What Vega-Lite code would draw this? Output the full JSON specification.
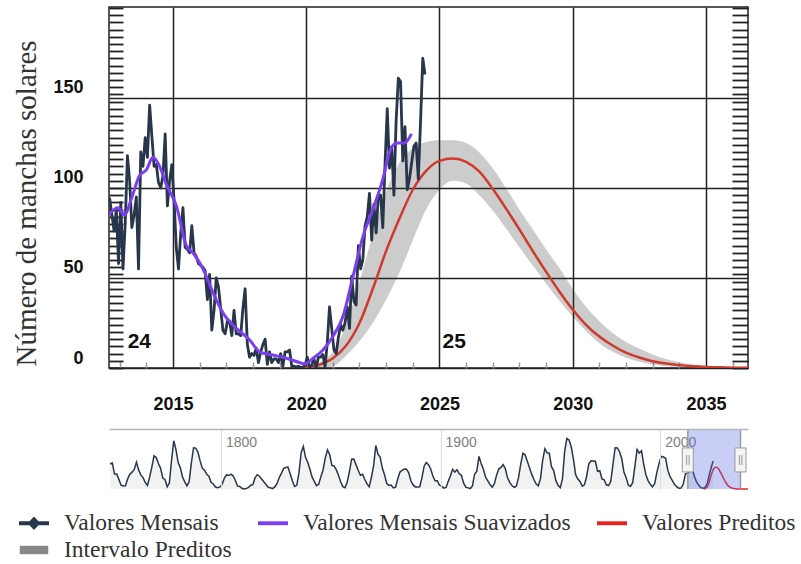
{
  "$schema": "https://vega.github.io/schema/vega-lite/v6.json",
  "padding": {"left": 12, "top": 6, "right": 0, "bottom": 0},
  "background": "white",
  "config": {"view": {"stroke": null}},
  "datasets": {
    "monthly": [
      {"t": 2012.542, "v": 95}, {"t": 2012.625, "v": 94}, {"t": 2012.708, "v": 85}, {"t": 2012.792, "v": 76}, {"t": 2012.875, "v": 88}, {"t": 2012.958, "v": 58},
      {"t": 2013.042, "v": 92}, {"t": 2013.125, "v": 55}, {"t": 2013.208, "v": 80}, {"t": 2013.292, "v": 118}, {"t": 2013.375, "v": 104}, {"t": 2013.458, "v": 78}, {"t": 2013.542, "v": 85}, {"t": 2013.625, "v": 95}, {"t": 2013.708, "v": 55}, {"t": 2013.792, "v": 120}, {"t": 2013.875, "v": 112}, {"t": 2013.958, "v": 128},
      {"t": 2014.042, "v": 117}, {"t": 2014.125, "v": 146}, {"t": 2014.208, "v": 129}, {"t": 2014.292, "v": 112}, {"t": 2014.375, "v": 113}, {"t": 2014.458, "v": 103}, {"t": 2014.542, "v": 100}, {"t": 2014.625, "v": 107}, {"t": 2014.708, "v": 130}, {"t": 2014.792, "v": 90}, {"t": 2014.875, "v": 104}, {"t": 2014.958, "v": 113},
      {"t": 2015.042, "v": 93}, {"t": 2015.125, "v": 67}, {"t": 2015.208, "v": 55}, {"t": 2015.292, "v": 75}, {"t": 2015.375, "v": 89}, {"t": 2015.458, "v": 67}, {"t": 2015.542, "v": 66}, {"t": 2015.625, "v": 64}, {"t": 2015.708, "v": 79}, {"t": 2015.792, "v": 64}, {"t": 2015.875, "v": 62}, {"t": 2015.958, "v": 58},
      {"t": 2016.042, "v": 57}, {"t": 2016.125, "v": 56}, {"t": 2016.208, "v": 54}, {"t": 2016.292, "v": 38}, {"t": 2016.375, "v": 52}, {"t": 2016.458, "v": 21}, {"t": 2016.542, "v": 32}, {"t": 2016.625, "v": 50}, {"t": 2016.708, "v": 45}, {"t": 2016.792, "v": 33}, {"t": 2016.875, "v": 21}, {"t": 2016.958, "v": 19},
      {"t": 2017.042, "v": 26}, {"t": 2017.125, "v": 26}, {"t": 2017.208, "v": 18}, {"t": 2017.292, "v": 32}, {"t": 2017.375, "v": 19}, {"t": 2017.458, "v": 19}, {"t": 2017.542, "v": 18}, {"t": 2017.625, "v": 33}, {"t": 2017.708, "v": 44}, {"t": 2017.792, "v": 13}, {"t": 2017.875, "v": 6}, {"t": 2017.958, "v": 8},
      {"t": 2018.042, "v": 7}, {"t": 2018.125, "v": 11}, {"t": 2018.208, "v": 3}, {"t": 2018.292, "v": 9}, {"t": 2018.375, "v": 13}, {"t": 2018.458, "v": 16}, {"t": 2018.542, "v": 2}, {"t": 2018.625, "v": 9}, {"t": 2018.708, "v": 3}, {"t": 2018.792, "v": 5}, {"t": 2018.875, "v": 5}, {"t": 2018.958, "v": 3},
      {"t": 2019.042, "v": 8}, {"t": 2019.125, "v": 1}, {"t": 2019.208, "v": 9}, {"t": 2019.292, "v": 9}, {"t": 2019.375, "v": 10}, {"t": 2019.458, "v": 1}, {"t": 2019.542, "v": 1}, {"t": 2019.625, "v": 0.5}, {"t": 2019.708, "v": 1}, {"t": 2019.792, "v": 0.4}, {"t": 2019.875, "v": 0.5}, {"t": 2019.958, "v": 1.5},
      {"t": 2020.042, "v": 6}, {"t": 2020.125, "v": 0.2}, {"t": 2020.208, "v": 1.5}, {"t": 2020.292, "v": 5}, {"t": 2020.375, "v": 0.2}, {"t": 2020.458, "v": 6}, {"t": 2020.542, "v": 6}, {"t": 2020.625, "v": 7.5}, {"t": 2020.708, "v": 0.6}, {"t": 2020.792, "v": 14}, {"t": 2020.875, "v": 34}, {"t": 2020.958, "v": 22},
      {"t": 2021.042, "v": 10}, {"t": 2021.125, "v": 8}, {"t": 2021.208, "v": 17}, {"t": 2021.292, "v": 24}, {"t": 2021.375, "v": 21}, {"t": 2021.458, "v": 25}, {"t": 2021.542, "v": 34}, {"t": 2021.625, "v": 22}, {"t": 2021.708, "v": 51}, {"t": 2021.792, "v": 37}, {"t": 2021.875, "v": 35}, {"t": 2021.958, "v": 68},
      {"t": 2022.042, "v": 55}, {"t": 2022.125, "v": 60}, {"t": 2022.208, "v": 79}, {"t": 2022.292, "v": 84}, {"t": 2022.375, "v": 97}, {"t": 2022.458, "v": 71}, {"t": 2022.542, "v": 91}, {"t": 2022.625, "v": 75}, {"t": 2022.708, "v": 96}, {"t": 2022.792, "v": 96}, {"t": 2022.875, "v": 78}, {"t": 2022.958, "v": 113},
      {"t": 2023.042, "v": 144}, {"t": 2023.125, "v": 111}, {"t": 2023.208, "v": 123}, {"t": 2023.292, "v": 96}, {"t": 2023.375, "v": 137}, {"t": 2023.458, "v": 161}, {"t": 2023.542, "v": 159}, {"t": 2023.625, "v": 115}, {"t": 2023.708, "v": 134}, {"t": 2023.792, "v": 99}, {"t": 2023.875, "v": 105}, {"t": 2023.958, "v": 114},
      {"t": 2024.042, "v": 123}, {"t": 2024.125, "v": 125}, {"t": 2024.208, "v": 105}, {"t": 2024.292, "v": 137}, {"t": 2024.375, "v": 172}, {"t": 2024.458, "v": 163}
    ],
    "smooth": [
      {"t": 2012.58, "v": 85}, {"t": 2012.94, "v": 89}, {"t": 2013.19, "v": 85}, {"t": 2013.44, "v": 94}, {"t": 2013.75, "v": 107}, {"t": 2014.0, "v": 110}, {"t": 2014.25, "v": 117}, {"t": 2014.5, "v": 112}, {"t": 2014.75, "v": 102}, {"t": 2015.13, "v": 90}, {"t": 2015.5, "v": 68}, {"t": 2015.75, "v": 64}, {"t": 2016.13, "v": 55}, {"t": 2016.5, "v": 42}, {"t": 2016.88, "v": 30.5}, {"t": 2017.38, "v": 22}, {"t": 2017.88, "v": 15.6}, {"t": 2018.25, "v": 9}, {"t": 2018.75, "v": 7.2}, {"t": 2019.26, "v": 5.4}, {"t": 2019.76, "v": 3}, {"t": 2019.94, "v": 2.2}, {"t": 2020.26, "v": 5.4}, {"t": 2020.63, "v": 10}, {"t": 2021.0, "v": 17.5}, {"t": 2021.38, "v": 28.6}, {"t": 2021.76, "v": 51}, {"t": 2022.13, "v": 73}, {"t": 2022.5, "v": 88}, {"t": 2022.88, "v": 105}, {"t": 2023.13, "v": 120}, {"t": 2023.39, "v": 125}, {"t": 2023.7, "v": 125}, {"t": 2023.95, "v": 130}
    ],
    "pred": [
      {"t": 2019.8, "v": 0, "lo": 0, "hi": 0},
      {"t": 2020.0, "v": 0.2, "lo": 0, "hi": 0.6},
      {"t": 2020.5, "v": 1.8, "lo": 0.1, "hi": 3},
      {"t": 2021.0, "v": 5.4, "lo": 1, "hi": 9},
      {"t": 2021.5, "v": 12.5, "lo": 7, "hi": 24},
      {"t": 2022.0, "v": 25, "lo": 15, "hi": 48},
      {"t": 2022.5, "v": 44, "lo": 25, "hi": 74},
      {"t": 2023.0, "v": 65, "lo": 38, "hi": 98},
      {"t": 2023.5, "v": 83, "lo": 53, "hi": 114},
      {"t": 2024.0, "v": 99, "lo": 71, "hi": 122},
      {"t": 2024.5, "v": 109.5, "lo": 88, "hi": 125.5},
      {"t": 2025.0, "v": 115, "lo": 99, "hi": 126.5},
      {"t": 2025.5, "v": 116.3, "lo": 104, "hi": 126.5},
      {"t": 2026.0, "v": 114.5, "lo": 102.5, "hi": 125},
      {"t": 2026.5, "v": 109, "lo": 96, "hi": 119.7},
      {"t": 2027.0, "v": 99.5, "lo": 87.5, "hi": 111},
      {"t": 2027.5, "v": 88.5, "lo": 77.5, "hi": 100},
      {"t": 2028.0, "v": 77, "lo": 67, "hi": 88},
      {"t": 2028.5, "v": 65, "lo": 57, "hi": 77},
      {"t": 2029.0, "v": 53.5, "lo": 47, "hi": 66},
      {"t": 2029.5, "v": 42.5, "lo": 37.5, "hi": 55.5},
      {"t": 2030.0, "v": 32.5, "lo": 28.6, "hi": 44},
      {"t": 2030.5, "v": 24, "lo": 20.5, "hi": 34},
      {"t": 2031.0, "v": 17.5, "lo": 13.8, "hi": 26},
      {"t": 2031.5, "v": 12.5, "lo": 9, "hi": 19.5},
      {"t": 2032.0, "v": 8.5, "lo": 5.7, "hi": 14.5},
      {"t": 2032.5, "v": 5.8, "lo": 3.5, "hi": 10.8},
      {"t": 2033.0, "v": 3.8, "lo": 2, "hi": 7.5},
      {"t": 2033.5, "v": 2.5, "lo": 1, "hi": 5},
      {"t": 2034.0, "v": 1.6, "lo": 0.4, "hi": 3.2},
      {"t": 2034.5, "v": 1.0, "lo": 0.1, "hi": 2},
      {"t": 2035.0, "v": 0.6, "lo": 0, "hi": 1.1},
      {"t": 2035.5, "v": 0.35, "lo": 0, "hi": 0.6},
      {"t": 2036.0, "v": 0.2, "lo": 0, "hi": 0.3},
      {"t": 2037.0, "v": 0.05, "lo": 0, "hi": 0},
      {"t": 2040.0, "v": 0, "lo": 0, "hi": 0}
    ],
    "cycles": [{"t": 2013.3, "v": 14.4, "label": "24"}, {"t": 2025.12, "v": 14.4, "label": "25"}],
    "navlabels": [{"t": 1800, "label": "1800"}, {"t": 1900, "label": "1900"}, {"t": 2000, "label": "2000"}],
    "sel": [{"a": 2012.6, "b": 2036.58}],
    "selEdges": [{"t": 2012.6}, {"t": 2036.58}],
    "nav": [
      {"t":1749.5,"v":134.7},{"t":1750.5,"v":139.0},{"t":1751.5,"v":79.5},{"t":1752.5,"v":79.7},{"t":1753.5,"v":51.2},{"t":1754.5,"v":20.3},{"t":1755.5,"v":16.0},{"t":1756.5,"v":17.0},{"t":1757.5,"v":54.0},{"t":1758.5,"v":79.3},{"t":1759.5,"v":90.0},
      {"t":1760.5,"v":104.8},{"t":1761.5,"v":143.2},{"t":1762.5,"v":102.0},{"t":1763.5,"v":75.2},{"t":1764.5,"v":60.7},{"t":1765.5,"v":34.8},{"t":1766.5,"v":19.0},{"t":1767.5,"v":63.0},{"t":1768.5,"v":116.3},{"t":1769.5,"v":176.8},
      {"t":1770.5,"v":168.0},{"t":1771.5,"v":136.0},{"t":1772.5,"v":110.8},{"t":1773.5,"v":58.0},{"t":1774.5,"v":51.0},{"t":1775.5,"v":11.7},{"t":1776.5,"v":33.0},{"t":1777.5,"v":154.2},{"t":1778.5,"v":257.3},{"t":1779.5,"v":209.8},
      {"t":1780.5,"v":141.3},{"t":1781.5,"v":113.5},{"t":1782.5,"v":64.2},{"t":1783.5,"v":38.0},{"t":1784.5,"v":17.0},{"t":1785.5,"v":40.2},{"t":1786.5,"v":138.2},{"t":1787.5,"v":220.0},{"t":1788.5,"v":218.2},{"t":1789.5,"v":196.8},
      {"t":1790.5,"v":149.8},{"t":1791.5,"v":111.0},{"t":1792.5,"v":100.0},{"t":1793.5,"v":78.2},{"t":1794.5,"v":68.3},{"t":1795.5,"v":35.5},{"t":1796.5,"v":26.7},{"t":1797.5,"v":10.7},{"t":1798.5,"v":6.8},{"t":1799.5,"v":11.3},
      {"t":1800.5,"v":24.2},{"t":1801.5,"v":56.7},{"t":1802.5,"v":75.0},{"t":1803.5,"v":71.8},{"t":1804.5,"v":79.2},{"t":1805.5,"v":70.3},{"t":1806.5,"v":46.8},{"t":1807.5,"v":16.8},{"t":1808.5,"v":13.5},{"t":1809.5,"v":4.2},
      {"t":1810.5,"v":0.0},{"t":1811.5,"v":2.3},{"t":1812.5,"v":8.3},{"t":1813.5,"v":20.3},{"t":1814.5,"v":23.2},{"t":1815.5,"v":59.0},{"t":1816.5,"v":76.3},{"t":1817.5,"v":68.3},{"t":1818.5,"v":52.9},{"t":1819.5,"v":38.5},
      {"t":1820.5,"v":24.2},{"t":1821.5,"v":9.2},{"t":1822.5,"v":6.3},{"t":1823.5,"v":2.2},{"t":1824.5,"v":11.4},{"t":1825.5,"v":28.2},{"t":1826.5,"v":59.9},{"t":1827.5,"v":83.0},{"t":1828.5,"v":108.5},{"t":1829.5,"v":115.2},
      {"t":1830.5,"v":117.4},{"t":1831.5,"v":80.8},{"t":1832.5,"v":44.3},{"t":1833.5,"v":13.4},{"t":1834.5,"v":19.5},{"t":1835.5,"v":85.8},{"t":1836.5,"v":192.7},{"t":1837.5,"v":227.3},{"t":1838.5,"v":168.7},{"t":1839.5,"v":143.0},
      {"t":1840.5,"v":105.5},{"t":1841.5,"v":63.3},{"t":1842.5,"v":40.3},{"t":1843.5,"v":18.1},{"t":1844.5,"v":25.1},{"t":1845.5,"v":65.8},{"t":1846.5,"v":102.7},{"t":1847.5,"v":166.3},{"t":1848.5,"v":208.3},{"t":1849.5,"v":182.5},
      {"t":1850.5,"v":126.3},{"t":1851.5,"v":122.0},{"t":1852.5,"v":103.0},{"t":1853.5,"v":73.0},{"t":1854.5,"v":39.0},{"t":1855.5,"v":12.6},{"t":1856.5,"v":7.0},{"t":1857.5,"v":37.6},{"t":1858.5,"v":93.8},{"t":1859.5,"v":159.3},
      {"t":1860.5,"v":159.7},{"t":1861.5,"v":128.7},{"t":1862.5,"v":98.5},{"t":1863.5,"v":73.3},{"t":1864.5,"v":78.3},{"t":1865.5,"v":50.8},{"t":1866.5,"v":27.2},{"t":1867.5,"v":12.2},{"t":1868.5,"v":62.7},{"t":1869.5,"v":123.8},
      {"t":1870.5,"v":232.0},{"t":1871.5,"v":185.3},{"t":1872.5,"v":169.2},{"t":1873.5,"v":110.3},{"t":1874.5,"v":74.5},{"t":1875.5,"v":28.3},{"t":1876.5,"v":18.9},{"t":1877.5,"v":20.7},{"t":1878.5,"v":5.7},{"t":1879.5,"v":10.0},
      {"t":1880.5,"v":53.7},{"t":1881.5,"v":90.5},{"t":1882.5,"v":99.0},{"t":1883.5,"v":106.1},{"t":1884.5,"v":105.8},{"t":1885.5,"v":86.3},{"t":1886.5,"v":42.4},{"t":1887.5,"v":21.8},{"t":1888.5,"v":11.2},{"t":1889.5,"v":10.4},
      {"t":1890.5,"v":11.8},{"t":1891.5,"v":59.5},{"t":1892.5,"v":121.7},{"t":1893.5,"v":142.0},{"t":1894.5,"v":130.0},{"t":1895.5,"v":106.6},{"t":1896.5,"v":69.4},{"t":1897.5,"v":43.8},{"t":1898.5,"v":44.4},{"t":1899.5,"v":20.2},
      {"t":1900.5,"v":15.7},{"t":1901.5,"v":4.6},{"t":1902.5,"v":8.5},{"t":1903.5,"v":40.8},{"t":1904.5,"v":70.1},{"t":1905.5,"v":105.5},{"t":1906.5,"v":90.1},{"t":1907.5,"v":102.8},{"t":1908.5,"v":80.9},{"t":1909.5,"v":73.2},
      {"t":1910.5,"v":30.9},{"t":1911.5,"v":9.5},{"t":1912.5,"v":6.0},{"t":1913.5,"v":2.4},{"t":1914.5,"v":16.1},{"t":1915.5,"v":79.0},{"t":1916.5,"v":95.0},{"t":1917.5,"v":173.6},{"t":1918.5,"v":134.6},{"t":1919.5,"v":105.7},
      {"t":1920.5,"v":62.7},{"t":1921.5,"v":43.5},{"t":1922.5,"v":23.7},{"t":1923.5,"v":9.7},{"t":1924.5,"v":27.9},{"t":1925.5,"v":73.8},{"t":1926.5,"v":106.3},{"t":1927.5,"v":114.9},{"t":1928.5,"v":129.7},{"t":1929.5,"v":108.2},
      {"t":1930.5,"v":59.4},{"t":1931.5,"v":35.1},{"t":1932.5,"v":18.6},{"t":1933.5,"v":9.2},{"t":1934.5,"v":14.6},{"t":1935.5,"v":60.2},{"t":1936.5,"v":132.8},{"t":1937.5,"v":190.6},{"t":1938.5,"v":182.6},{"t":1939.5,"v":148.0},
      {"t":1940.5,"v":113.0},{"t":1941.5,"v":79.2},{"t":1942.5,"v":50.8},{"t":1943.5,"v":27.1},{"t":1944.5,"v":16.1},{"t":1945.5,"v":55.3},{"t":1946.5,"v":154.3},{"t":1947.5,"v":214.7},{"t":1948.5,"v":193.0},{"t":1949.5,"v":190.7},
      {"t":1950.5,"v":118.9},{"t":1951.5,"v":98.3},{"t":1952.5,"v":45.0},{"t":1953.5,"v":20.1},{"t":1954.5,"v":6.6},{"t":1955.5,"v":54.2},{"t":1956.5,"v":200.7},{"t":1957.5,"v":269.3},{"t":1958.5,"v":261.7},{"t":1959.5,"v":225.1},
      {"t":1960.5,"v":159.0},{"t":1961.5,"v":76.4},{"t":1962.5,"v":53.4},{"t":1963.5,"v":39.9},{"t":1964.5,"v":15.0},{"t":1965.5,"v":22.0},{"t":1966.5,"v":66.8},{"t":1967.5,"v":132.9},{"t":1968.5,"v":150.0},{"t":1969.5,"v":149.4},
      {"t":1970.5,"v":148.0},{"t":1971.5,"v":94.4},{"t":1972.5,"v":97.6},{"t":1973.5,"v":54.1},{"t":1974.5,"v":49.2},{"t":1975.5,"v":22.5},{"t":1976.5,"v":18.4},{"t":1977.5,"v":39.3},{"t":1978.5,"v":131.0},{"t":1979.5,"v":220.1},
      {"t":1980.5,"v":218.9},{"t":1981.5,"v":198.9},{"t":1982.5,"v":162.4},{"t":1983.5,"v":91.0},{"t":1984.5,"v":60.5},{"t":1985.5,"v":20.6},{"t":1986.5,"v":14.8},{"t":1987.5,"v":33.9},{"t":1988.5,"v":123.0},{"t":1989.5,"v":211.1},
      {"t":1990.5,"v":191.8},{"t":1991.5,"v":203.3},{"t":1992.5,"v":133.0},{"t":1993.5,"v":76.1},{"t":1994.5,"v":44.9},{"t":1995.5,"v":25.1},{"t":1996.5,"v":11.6},{"t":1997.5,"v":28.9},{"t":1998.5,"v":88.3},{"t":1999.5,"v":136.3},
      {"t":2000.5,"v":173.9},{"t":2001.5,"v":170.4},{"t":2002.5,"v":163.6},{"t":2003.5,"v":99.3},{"t":2004.5,"v":65.3},{"t":2005.5,"v":45.8},{"t":2006.5,"v":24.7},{"t":2007.5,"v":12.6},{"t":2008.5,"v":4.2},{"t":2009.5,"v":4.8},
      {"t":2010.5,"v":24.9},{"t":2011.5,"v":80.8},{"t":2012.5,"v":84.5},{"t":2013.5,"v":94.0},{"t":2014.5,"v":113.3},{"t":2015.5,"v":69.8},{"t":2016.5,"v":39.8},{"t":2017.5,"v":21.7},{"t":2018.5,"v":7.0},{"t":2019.5,"v":3.6},
      {"t":2020.5,"v":8.8},{"t":2021.5,"v":29.6},{"t":2022.5,"v":83.2},{"t":2023.5,"v":125.5},{"t":2024.2,"v":150}
    ]
  },
  "bounds": "flush",
  "spacing": 61,
  "resolve": {"scale": {"color": "independent"}},
  "vconcat": [
    {
      "width": 639,
      "height": 361,
      "view": {"stroke": "#222222", "strokeWidth": 1.5},
      "resolve": {"axis": {"x": "independent", "y": "independent"}},
      "layer": [
        {
          "data": {"name": "pred"},
          "mark": {"type": "area", "color": "#333333", "opacity": 0.25, "interpolate": "monotone", "clip": true},
          "encoding": {
            "x": {"field": "t", "type": "quantitative", "scale": {"domain": [2012.6, 2036.58], "nice": false, "zero": false},
                  "axis": {"orient": "bottom", "values": [2015, 2020, 2025, 2030, 2035], "format": "d", "grid": true, "gridColor": "#222222", "gridWidth": 1.5, "gridOpacity": 1, "domain": false, "ticks": false, "labelFont": "Liberation Sans", "labelFontWeight": "bold", "labelFontSize": 18, "labelColor": "#111111", "labelPadding": 27, "title": null}},
            "y": {"field": "lo", "type": "quantitative", "scale": {"domain": [0, 200.5], "nice": false, "zero": false},
                  "axis": {"orient": "left", "values": [0, 50, 100, 150], "grid": true, "gridColor": "#222222", "gridWidth": 1.5, "gridOpacity": 1, "domain": false, "ticks": false, "labelFont": "Liberation Sans", "labelFontWeight": "bold", "labelFontSize": 18, "labelColor": "#111111", "labelPadding": 26, "labelOffset": -10, "title": "Número de manchas solares", "titleFont": "Liberation Serif", "titleFontSize": 29, "titleFontWeight": "normal", "titleColor": "#333333", "titlePadding": 11, "titleY": 196}},
            "y2": {"field": "hi"}
          }
        },
        {
          "data": {"name": "pred"},
          "mark": {"type": "line", "color": "#cf3a2c", "strokeWidth": 2.5, "interpolate": "monotone", "clip": true},
          "encoding": {
            "x": {"field": "t", "type": "quantitative", "scale": {"domain": [2012.6, 2036.58], "nice": false, "zero": false},
                  "axis": {"orient": "bottom", "offset": -6, "values": [2013, 2014, 2016, 2017, 2018, 2019, 2021, 2022, 2023, 2024, 2026, 2027, 2028, 2029, 2031, 2032, 2033, 2034, 2036], "tickSize": 6, "tickColor": "#999999", "tickWidth": 1.5, "labels": false, "domain": false, "grid": false, "title": null}},
            "y": {"field": "v", "type": "quantitative", "scale": {"domain": [0, 200.5], "nice": false, "zero": false},
                  "axis": {"orient": "left", "offset": -14, "values": [0,4,8,12,16,20,24,28,32,36,40,44,48,52,56,60,64,68,72,76,80,84,88,92,96,100,104,108,112,116,120,124,128,132,136,140,144,148,152,156,160,164,168,172,176,180,184,188,192,196,200], "tickSize": 14, "tickColor": "#222222", "tickWidth": 1.8, "labels": false, "domain": false, "grid": false, "title": null}}
          }
        },
        {
          "data": {"name": "monthly"},
          "mark": {"type": "line", "color": "#27364a", "strokeWidth": 2.8, "strokeJoin": "round", "clip": true},
          "encoding": {
            "x": {"field": "t", "type": "quantitative", "scale": {"domain": [2012.6, 2036.58], "nice": false, "zero": false}, "axis": null},
            "y": {"field": "v", "type": "quantitative", "scale": {"domain": [0, 200.5], "nice": false, "zero": false},
                  "axis": {"orient": "right", "offset": -16, "values": [0,4,8,12,16,20,24,28,32,36,40,44,48,52,56,60,64,68,72,76,80,84,88,92,96,100,104,108,112,116,120,124,128,132,136,140,144,148,152,156,160,164,168,172,176,180,184,188,192,196,200], "tickSize": 16, "tickColor": "#222222", "tickWidth": 1.8, "labels": false, "domain": false, "grid": false, "title": null}}
          }
        },
        {
          "data": {"name": "smooth"},
          "mark": {"type": "line", "color": "#7b3ff0", "strokeWidth": 3, "interpolate": "monotone", "clip": true},
          "encoding": {
            "x": {"field": "t", "type": "quantitative", "scale": {"domain": [2012.6, 2036.58], "nice": false, "zero": false}, "axis": null},
            "y": {"field": "v", "type": "quantitative", "scale": {"domain": [0, 200.5], "nice": false, "zero": false}, "axis": null}
          }
        },
        {
          "data": {"name": "cycles"},
          "mark": {"type": "text", "align": "left", "baseline": "middle", "font": "Liberation Sans", "fontWeight": "bold", "fontSize": 21, "color": "#111111"},
          "encoding": {
            "x": {"field": "t", "type": "quantitative", "scale": {"domain": [2012.6, 2036.58], "nice": false, "zero": false}, "axis": null},
            "y": {"field": "v", "type": "quantitative", "scale": {"domain": [0, 200.5], "nice": false, "zero": false}, "axis": null},
            "text": {"field": "label"}
          }
        }
      ]
    },
    {
      "width": 639,
      "height": 60,
      "view": {"stroke": null},
      "layer": [
        {
          "data": {"name": "nav"},
          "mark": {"type": "area", "color": "#f2f2f2"},
          "encoding": {
            "x": {"field": "t", "type": "quantitative", "scale": {"domain": [1749, 2040], "nice": false, "zero": false},
                  "axis": {"orient": "top", "values": [1800, 1900, 2000], "grid": true, "gridColor": "#dddddd", "gridWidth": 1, "domain": true, "domainColor": "#b5b5b5", "domainWidth": 1.5, "ticks": false, "labels": false, "title": null, "zindex": 1}},
            "y": {"field": "v", "type": "quantitative", "scale": {"domain": [0, 320], "nice": false, "zero": false}, "axis": null}
          }
        },
        {
          "data": {"name": "navlabels"},
          "mark": {"type": "text", "align": "left", "baseline": "middle", "dx": 5, "font": "Liberation Sans", "fontSize": 14, "color": "#808080"},
          "encoding": {
            "x": {"field": "t", "type": "quantitative"},
            "y": {"datum": 245, "type": "quantitative"},
            "text": {"field": "label"}
          }
        },
        {
          "data": {"name": "nav"},
          "mark": {"type": "line", "strokeWidth": 1.5},
          "encoding": {
            "x": {"field": "t", "type": "quantitative"},
            "y": {"field": "v", "type": "quantitative"},
            "color": {"datum": "Valores Mensais", "type": "nominal",
              "scale": {"domain": ["Valores Mensais", "Valores Mensais Suavizados", "Valores Preditos", "Intervalo Preditos"], "range": ["#27364a", "#7b3ff0", "#e8231f", "#888888"]},
              "legend": {"orient": "none", "legendX": -90, "legendY": 79, "title": null, "columns": 3, "direction": "horizontal", "labelFont": "Liberation Serif", "labelFontSize": 23.5, "labelColor": "#333333", "labelLimit": 0, "symbolSize": 900, "labelOffset": 15, "columnPadding": 26, "rowPadding": 0, "symbolStrokeWidth": 0,
                "encode": {"symbols": {"update": {
                  "shape": {"signal": "datum.value === 'Valores Mensais' ? 'M-1,-0.13H1V0.13H-1Z M0,-0.45L0.42,0L0,0.45L-0.42,0Z' : datum.value === 'Intervalo Preditos' ? 'M-0.95,-0.28H0.95V0.28H-0.95Z' : 'M-1,-0.13H1V0.13H-1Z'"},
                  "fill": {"signal": "datum.value === 'Valores Mensais' ? '#27364a' : datum.value === 'Valores Mensais Suavizados' ? '#7b3ff0' : datum.value === 'Valores Preditos' ? '#e8231f' : '#888888'"},
                  "stroke": {"value": "transparent"},
                  "opacity": {"value": 1}
                }}}}
            }
          }
        },
        {
          "data": {"name": "pred"},
          "mark": {"type": "line", "strokeWidth": 1.5, "interpolate": "monotone"},
          "encoding": {
            "x": {"field": "t", "type": "quantitative"},
            "y": {"field": "v", "type": "quantitative"},
            "color": {"datum": "Valores Preditos", "type": "nominal"}
          }
        },
        {
          "data": {"name": "sel"},
          "mark": {"type": "rect", "color": "#5b6be8", "opacity": 0.33},
          "encoding": {
            "x": {"field": "a", "type": "quantitative"},
            "x2": {"field": "b"}
          }
        },
        {
          "data": {"name": "selEdges"},
          "mark": {"type": "rule", "color": "#9a9a9a", "strokeWidth": 1.5},
          "encoding": {"x": {"field": "t", "type": "quantitative"}}
        },
        {
          "data": {"name": "selEdges"},
          "mark": {"type": "point", "shape": "M-0.46,-1H0.46V1H-0.46Z", "size": 576, "filled": true, "fill": "#f4f4f4", "stroke": "#999999", "strokeWidth": 1, "opacity": 1},
          "encoding": {"x": {"field": "t", "type": "quantitative"}, "y": {"datum": 155, "type": "quantitative"}}
        },
        {
          "data": {"name": "selEdges"},
          "mark": {"type": "text", "text": "||", "font": "Liberation Sans", "fontSize": 10, "color": "#888888", "baseline": "middle", "align": "center"},
          "encoding": {"x": {"field": "t", "type": "quantitative"}, "y": {"datum": 155, "type": "quantitative"}}
        }
      ]
    }
  ]
}
